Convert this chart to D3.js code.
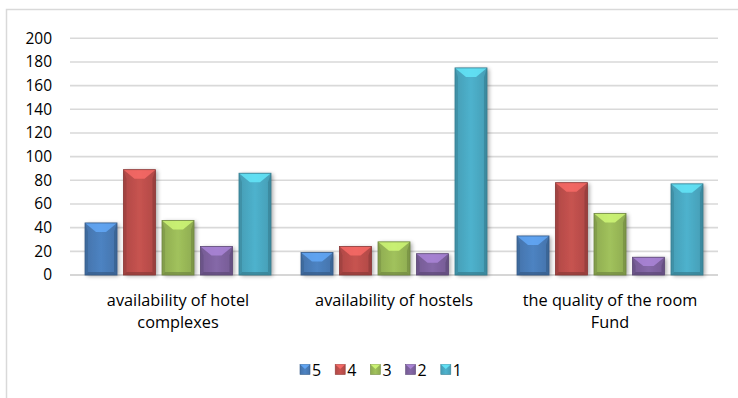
<!DOCTYPE html>
<html><head><meta charset="utf-8">
<script src="https://cdn.jsdelivr.net/npm/d3@7"></script>
<style>
html,body{margin:0;padding:0;background:#fff;}
svg{display:block;font-family:"Open Sans",Lato,sans-serif;}
</style></head>
<body><svg id="c" width="738" height="398"></svg>
<script>
const categories = ["availability of hotel complexes","availability of hostels","the quality of the room Fund"];
const seriesNames = ["5","4","3","2","1"];
const s5 = [44, 19, 33];
const s4 = [89, 24, 78];
const s3 = [46, 28, 52];
const s2 = [24, 18, 15];
const s1 = [86, 175, 77];
const yTicks = [0,20,40,60,80,100,120,140,160,180,200];
const colors = ["#4a7ebb","#c0504d","#9bbb59","#8064a2","#4bacc6"];
const seriesValues = [s5,s4,s3,s2,s1];

const svg = d3.select("#c");
const pLeft=70,pRight=718,pTop=38.3,pBottom=275;
const FONT = "'Open Sans',Lato,sans-serif";

svg.append("rect").attr("x",6.5).attr("y",9.5).attr("width",760).attr("height",400)
  .attr("fill","#fff").attr("stroke","#d9d9d9").attr("stroke-width",1.5);

const defs = svg.append("defs");
const f = defs.append("filter").attr("id","sh").attr("x","-30%").attr("y","-30%").attr("width","160%").attr("height","160%");
f.append("feGaussianBlur").attr("in","SourceAlpha").attr("stdDeviation",2.2).attr("result","b");
f.append("feOffset").attr("in","b").attr("dx",1.5).attr("dy",0.5).attr("result","o");
f.append("feComponentTransfer").attr("in","o").attr("result","o2").append("feFuncA").attr("type","linear").attr("slope",0.35);
const fm = f.append("feMerge"); fm.append("feMergeNode").attr("in","o2"); fm.append("feMergeNode").attr("in","SourceGraphic");

colors.forEach((c,i)=>{
  const g = defs.append("linearGradient").attr("id","g"+i).attr("x1","0").attr("x2","1").attr("y1","0").attr("y2","0");
  const col = d3.color(c);
  g.append("stop").attr("offset","0").attr("stop-color",col.darker(0.25));
  g.append("stop").attr("offset","0.5").attr("stop-color",col.brighter(0.1));
  g.append("stop").attr("offset","1").attr("stop-color",col.darker(0.25));
});

const y = d3.scaleLinear().domain([0,200]).range([pBottom,pTop]);
const x0 = d3.scaleBand().domain(categories).range([pLeft,pRight]);
const x1 = d3.scaleBand().domain(seriesNames).range([0,x0.bandwidth()]).paddingInner(0.169).paddingOuter(0.39);

// gridlines
svg.append("g").selectAll("line").data(yTicks).join("line")
  .attr("x1",pLeft).attr("x2",pRight).attr("y1",d=>y(d)).attr("y2",d=>y(d))
  .attr("stroke",d=>d===0?"#c8c8c8":"#d9d9d9").attr("stroke-width",1.6);

// y axis labels
const yAxis = d3.axisLeft(y).tickValues(yTicks).tickSize(0).tickPadding(0);
const ya = svg.append("g").attr("transform",`translate(52,0)`).call(yAxis);
ya.select(".domain").remove();
ya.selectAll("text").attr("font-size",15.5).attr("fill","#000").attr("font-family",FONT);

// bars
const bars = svg.append("g");
categories.forEach((cat,ci)=>{
  seriesNames.forEach((sn,si)=>{
    const v = seriesValues[si][ci];
    const bx = x0(cat)+x1(sn), bw = x1.bandwidth();
    const by = y(v), bh = y(0)-y(v);
    const g = bars.append("g");
    const col = d3.color(colors[si]);
    g.append("rect").attr("x",bx).attr("y",by).attr("width",bw).attr("height",bh)
      .attr("fill",`url(#g${si})`).attr("filter","url(#sh)");
    const b = Math.min(9, bh/2), sb = Math.min(3, bh/2);
    g.append("polygon").attr("points",[[bx,by],[bx+sb,by+b],[bx+sb,by+bh-sb],[bx,by+bh]].join(" "))
      .attr("fill",col.darker(0.6)).attr("opacity",0.7);
    g.append("polygon").attr("points",[[bx+bw,by],[bx+bw-sb,by+b],[bx+bw-sb,by+bh-sb],[bx+bw,by+bh]].join(" "))
      .attr("fill",col.darker(0.8)).attr("opacity",0.7);
    g.append("polygon").attr("points",[[bx,by+bh],[bx+sb,by+bh-sb],[bx+bw-sb,by+bh-sb],[bx+bw,by+bh]].join(" "))
      .attr("fill",col.darker(0.9)).attr("opacity",0.7);
    const tb = Math.min(bw/2-2,b+2);
    g.append("polygon").attr("points",[[bx,by],[bx+bw,by],[bx+bw-tb,by+b],[bx+tb,by+b]].join(" "))
      .attr("fill",col.brighter(0.9)).attr("opacity",0.75);
    g.append("rect").attr("x",bx).attr("y",by).attr("width",bw).attr("height",bh)
      .attr("fill","none").attr("stroke",col.darker(0.9)).attr("stroke-width",0.8);
  });
});

// category labels with wrapping
const xa = svg.append("g");
categories.forEach(cat=>{
  const cx = x0(cat)+x0.bandwidth()/2;
  const t = xa.append("text").attr("text-anchor","middle").attr("font-size",16.3).attr("fill","#000").attr("font-family",FONT);
  const words = cat.split(" ");
  let lines=[], line=[];
  words.forEach(w=>{
    const test=[...line,w].join(" ");
    t.text(test);
    if (t.node().getComputedTextLength()>180 && line.length){ lines.push(line.join(" ")); line=[w]; }
    else line.push(w);
  });
  lines.push(line.join(" "));
  t.text(null);
  lines.forEach((l,i)=>t.append("tspan").attr("x",cx).attr("y",306+i*22).text(l));
});

// legend
const leg = svg.append("g");
const lx0 = 300, lstep = 35.2;
seriesNames.forEach((sn,i)=>{
  const lx = lx0 + i*lstep;
  const col = d3.color(colors[i]);
  leg.append("rect").attr("x",lx).attr("y",364.5).attr("width",10).attr("height",10)
    .attr("fill",`url(#g${i})`).attr("stroke",col.darker(0.8)).attr("stroke-width",0.6);
  leg.append("polygon").attr("points",[[lx,364.5],[lx+10,364.5],[lx+5,369]].join(" ")).attr("fill",col.brighter(0.9)).attr("opacity",0.8);
  leg.append("text").attr("x",lx+12).attr("y",376).attr("font-size",16).attr("fill","#000").attr("font-family",FONT).text(sn);
});
</script></body></html>
